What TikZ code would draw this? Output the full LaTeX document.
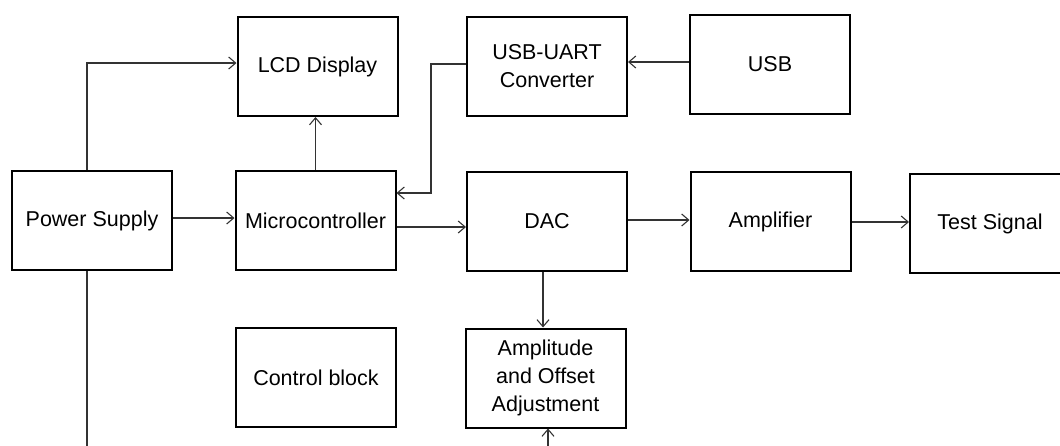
\documentclass[tikz,border=0pt]{standalone}
\usepackage{fontspec}
\setmainfont{Liberation Sans}
\usetikzlibrary{arrows.meta,calc}
\begin{document}
\begin{tikzpicture}[x=1pt,y=-1pt,
  blockbox/.style={draw=black,line width=2pt,rectangle,minimum width=160pt,minimum height=99pt,inner sep=0pt,align=center,font=\fontsize{21.5}{28}\selectfont},
  conn/.style={draw=black!80,line width=1.3pt,-{Straight Barb[length=7pt,width=12pt,line width=1.1pt]}}
]
\useasboundingbox (0,0) rectangle (1060,445);
\clip (0,0) rectangle (1060,445);
\node[blockbox] (ps)   at (92,220.5)   {Power Supply};
\node[blockbox] (lcd)  at (317.5,66.5) {LCD Display};
\node[blockbox] (mc)   at (315.5,220.5){Microcontroller};
\node[blockbox] (conv) at (547,66)     {USB-UART\\Converter};
\node[blockbox] (usb)  at (770,64.5)   {USB};
\node[blockbox] (dac)  at (547,221.5)  {DAC};
\node[blockbox] (amp)  at (770.5,221.5){Amplifier};
\node[blockbox] (test) at (990,223.5)  {Test Signal};
\node[blockbox] (ctrl) at (316,377.5)  {Control block};
\node[blockbox] (adj)  at (545.5,378)  {Amplitude\\and Offset\\Adjustment};
\coordinate (lowc) at (0,470);
\coordinate (bendx) at (431,0);
% power supply to LCD
\draw[conn] ([xshift=-5pt]ps.north) |- ([yshift=3.5pt]lcd.west);
% power supply to microcontroller
\draw[conn] ([yshift=2.5pt]ps.east) -- ([yshift=2.5pt]ps.east -| mc.west);
% power supply down to adjustment
\draw[conn] ([xshift=-5pt]ps.south) -- ([xshift=-5pt]ps.south |- lowc) -| ([xshift=2.5pt]adj.south);
% microcontroller to LCD
\draw[conn] (mc.north) -- (mc.north |- lcd.south);
% USB to converter
\draw[conn] ([yshift=2.5pt]usb.west) -- ([yshift=2.5pt]usb.west -| conv.east);
% converter to microcontroller
\draw[conn] ([yshift=2pt]conv.west) -- ([yshift=2pt]conv.west -| bendx) |- ([yshift=27.5pt]mc.east);
% microcontroller to DAC
\draw[conn] ([yshift=-6.5pt]mc.east) -- ([yshift=-6.5pt]mc.east -| dac.west);
% DAC to amplifier
\draw[conn] ([yshift=1.5pt]dac.east) -- ([yshift=1.5pt]dac.east -| amp.west);
% amplifier to test signal
\draw[conn] ([yshift=-0.5pt]amp.east) -- ([yshift=-0.5pt]amp.east -| test.west);
% DAC to adjustment
\draw[conn] ([xshift=-4pt]dac.south) -- ([xshift=-4pt]dac.south |- adj.north);
\end{tikzpicture}
\end{document}
